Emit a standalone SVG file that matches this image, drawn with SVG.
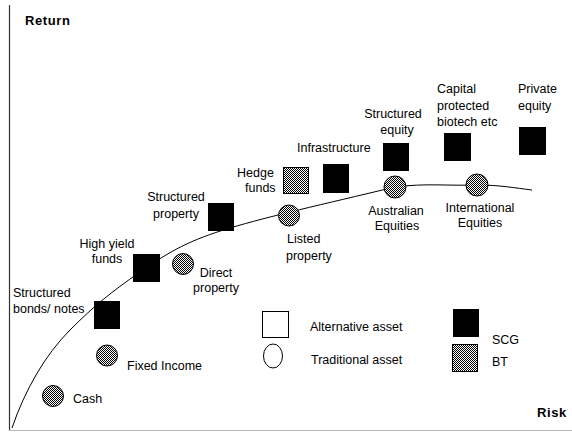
<svg xmlns="http://www.w3.org/2000/svg" width="572" height="432" viewBox="0 0 572 432">
<defs>
<pattern id="dither" patternUnits="userSpaceOnUse" width="2" height="2">
<rect width="2" height="2" fill="#ffffff"/>
<rect x="0" y="0" width="1" height="1" fill="#000000"/>
<rect x="1" y="1" width="1" height="1" fill="#000000"/>
</pattern>
<style>
text{font-family:"Liberation Sans",Arial,sans-serif;font-size:12.5px;fill:#000}
.ax{font-weight:bold;font-size:13px;letter-spacing:0.6px}
.scg{fill:#000;stroke:#000;stroke-width:1}
.bt{fill:url(#dither);stroke:#000;stroke-width:1}
.open{fill:#fff;stroke:#000;stroke-width:1}
.mid{text-anchor:middle}
</style>
</defs>
<rect width="572" height="432" fill="#fff"/>
<g id="axes">
<line x1="9.5" y1="5" x2="9.5" y2="431" stroke="#333" stroke-width="1.2"/>
<line x1="9" y1="430.5" x2="572" y2="430.5" stroke="#bbb" stroke-width="1"/>
<text class="ax" x="25" y="25">Return</text>
<text class="ax" x="537" y="417">Risk</text>
</g>
<g id="connectors">
<path d="M12,428 C25,390 45,355 70,330 S110,293 140,272 S190,240 230,228 S320,205 395,187 C425,183 450,186 477,185 C500,185 515,188 532,190" fill="none" stroke="#000" stroke-width="1"/>
</g>
<g id="cash"><circle class="bt" cx="53" cy="396" r="10.5"/><text x="73" y="403">Cash</text></g>
<g id="fixed-income"><circle class="bt" cx="107" cy="355.5" r="10.5"/><text x="127" y="370">Fixed Income</text></g>
<g id="structured-bonds"><rect class="scg" x="94.5" y="301.5" width="25" height="27"/><text x="13" y="297">Structured</text><text x="13" y="313">bonds/ notes</text></g>
<g id="high-yield"><rect class="scg" x="133.5" y="254.5" width="26" height="27"/><text class="mid" x="107" y="248">High yield</text><text class="mid" x="107" y="263">funds</text></g>
<g id="direct-property"><circle class="bt" cx="183" cy="264" r="10.5"/><text class="mid" x="216" y="277">Direct</text><text class="mid" x="216" y="292">property</text></g>
<g id="structured-property"><rect class="scg" x="208.5" y="203.5" width="25" height="27"/><text class="mid" x="176" y="201">Structured</text><text class="mid" x="176" y="218">property</text></g>
<g id="listed-property"><circle class="bt" cx="289" cy="215.5" r="10.5"/><text x="287" y="243">Listed</text><text x="286" y="260">property</text></g>
<g id="hedge-funds"><rect class="bt" x="283.5" y="167.5" width="25" height="26"/><text x="237" y="177">Hedge</text><text x="245" y="192">funds</text></g>
<g id="infrastructure"><rect class="scg" x="323.5" y="164.5" width="25" height="28"/><text x="297" y="152">Infrastructure</text></g>
<g id="structured-equity"><rect class="scg" x="383.5" y="143.5" width="25" height="27"/><text class="mid" x="393" y="118">Structured</text><text class="mid" x="397" y="134">equity</text></g>
<g id="australian-equities"><circle class="bt" cx="395" cy="187" r="11"/><text class="mid" x="396" y="215">Australian</text><text class="mid" x="397" y="230">Equities</text></g>
<g id="capital-protected"><rect class="scg" x="444.5" y="133.5" width="26" height="27"/><text x="437" y="93">Capital</text><text x="437" y="110">protected</text><text x="437" y="126">biotech etc</text></g>
<g id="international-equities"><circle class="bt" cx="477" cy="185" r="11"/><text class="mid" x="480" y="212">International</text><text class="mid" x="480" y="227">Equities</text></g>
<g id="private-equity"><rect class="scg" x="519.5" y="127.5" width="26" height="27"/><text x="518" y="93">Private</text><text x="518" y="110">equity</text></g>
<g id="legend">
<rect class="open" x="262.5" y="311.5" width="26" height="26"/>
<text x="310" y="331">Alternative asset</text>
<ellipse class="open" cx="273" cy="356" rx="9.5" ry="12"/>
<text x="311" y="364">Traditional asset</text>
<rect class="scg" x="453.5" y="309.5" width="25" height="27"/>
<text x="492" y="344">SCG</text>
<rect class="bt" x="452.5" y="344.5" width="25" height="27"/>
<text x="492" y="366">BT</text>
</g>
</svg>
